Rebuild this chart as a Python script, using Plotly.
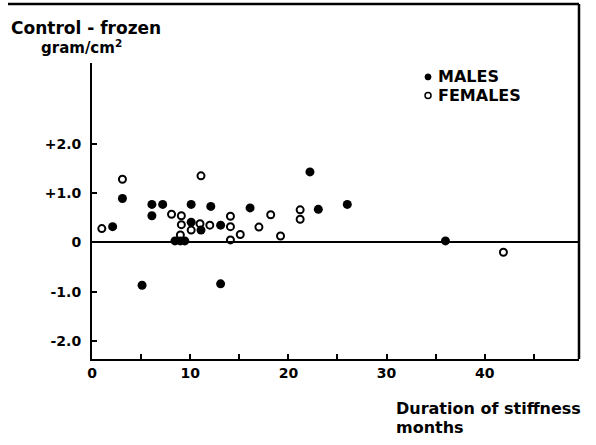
import plotly.graph_objects as go

# Data (y in tick units as labelled on the axis)
males_x = [2.1, 3.1, 5.1, 6.1, 6.1, 7.2, 8.45, 9.0, 9.45, 10.1, 10.1, 11.1, 12.1, 13.1, 13.1, 16.1, 22.2, 23.05, 26.0, 36.0]
males_y = [0.32, 0.89, -0.87, 0.77, 0.54, 0.77, 0.03, 0.03, 0.03, 0.77, 0.41, 0.25, 0.73, 0.35, -0.84, 0.70, 1.43, 0.67, 0.77, 0.03]
females_x = [1.0, 3.1, 8.1, 9.1, 9.1, 9.0, 10.1, 11.1, 11.0, 12.0, 14.1, 14.1, 14.1, 15.1, 17.0, 18.2, 19.2, 21.2, 21.2, 41.9]
females_y = [0.28, 1.28, 0.57, 0.54, 0.36, 0.15, 0.25, 1.35, 0.38, 0.35, 0.53, 0.32, 0.05, 0.16, 0.31, 0.56, 0.13, 0.66, 0.47, -0.20]

x_tickvals = [0, 10, 20, 30, 40]
x_ticktext = ["0", "10", "20", "30", "40"]
x_minor_tickvals = [5, 15, 25, 35, 45]
y_tickvals = [-2, -1, 0, 1, 2]
y_ticktext = ["-2.0", "-1.0", "0", "+1.0", "+2.0"]

FONT = "DejaVu Sans"

fig = go.Figure()
fig.add_trace(go.Scatter(x=males_x, y=males_y, mode="markers", name="MALES",
                         marker=dict(symbol="circle", size=9, color="black", line=dict(width=0))))
fig.add_trace(go.Scatter(x=females_x, y=females_y, mode="markers", name="FEMALES",
                         marker=dict(symbol="circle-open", size=7, color="black", line=dict(width=2, color="black"))))

fig.update_layout(
    width=596, height=445,
    margin=dict(l=92, r=17, t=63, b=86),
    paper_bgcolor="white", plot_bgcolor="white",
    showlegend=False,
    font=dict(family=FONT, color="black", size=14),
    xaxis=dict(range=[0, 49.6], showgrid=False, zeroline=False,
               showline=True, linecolor="black", linewidth=2,
               ticks="inside", ticklen=5, tickwidth=2, tickcolor="black",
               tickvals=x_tickvals, ticktext=x_ticktext,
               minor=dict(ticks="inside", ticklen=5, tickwidth=2, tickcolor="black",
                          tickvals=x_minor_tickvals, showgrid=False),
               tickfont=dict(family=FONT, size=14, color="black", weight="bold"),
               ticklabelstandoff=0),
    yaxis=dict(range=[-2.365, 3.639], showgrid=False,
               zeroline=True, zerolinecolor="black", zerolinewidth=2,
               showline=True, linecolor="black", linewidth=2,
               ticks="inside", ticklen=5, tickwidth=2, tickcolor="black",
               tickvals=y_tickvals, ticktext=y_ticktext,
               tickfont=dict(family=FONT, size=14, color="black", weight="bold"),
               ticklabelstandoff=6),
)

# frame lines (top and right)
fig.add_shape(type="line", xref="paper", yref="paper", x0=-0.1725, x1=1.0, y0=1.199, y1=1.199,
              line=dict(color="black", width=2.5))
fig.add_shape(type="line", xref="paper", yref="paper", x0=1.0, x1=1.0, y0=0, y1=1.199,
              line=dict(color="black", width=2.5))

# legend bullets (small circles)
bw, bh = 6 / 487, 6 / 296
fig.add_shape(type="circle", xref="paper", yref="paper",
              x0=0.690 - bw / 2, x1=0.690 + bw / 2, y0=0.953 - bh / 2, y1=0.953 + bh / 2,
              fillcolor="black", line=dict(color="black", width=1))
fig.add_shape(type="circle", xref="paper", yref="paper",
              x0=0.690 - bw / 2, x1=0.690 + bw / 2, y0=0.890 - bh / 2, y1=0.890 + bh / 2,
              fillcolor="white", line=dict(color="black", width=1.5))

def ann(text, x, y, size=17, xanchor="left"):
    fig.add_annotation(text=text, x=x, y=y, xref="paper", yref="paper", showarrow=False,
                       xanchor=xanchor, yanchor="middle",
                       font=dict(family=FONT, size=size, color="black", weight="bold"))

ann("Control - frozen", -0.170, 1.1166)
ann("gram/cm<sup>2</sup>", -0.108, 1.054, size=15)
ann("MALES", 0.7070, 0.953, size=16)
ann("FEMALES", 0.7070, 0.890, size=16)
ann("Duration of stiffness", 0.620, -0.166, size=16)
ann("months", 0.620, -0.232, size=16)

fig.write_html("out.html")
